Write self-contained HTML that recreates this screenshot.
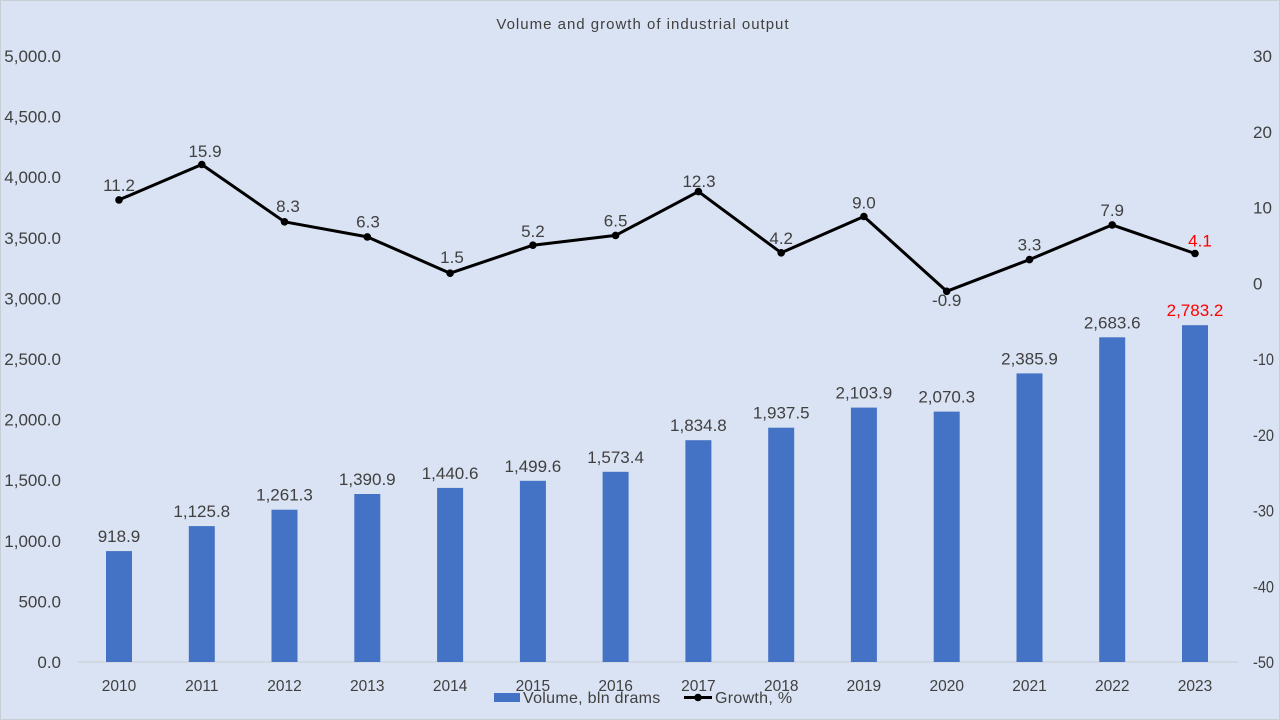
<!DOCTYPE html>
<html><head><meta charset="utf-8"><style>
html,body{margin:0;padding:0;background:#dae3f3;}
svg{display:block;}
text{font-family:"Liberation Sans","DejaVu Sans",sans-serif;fill:#404040;}
</style></head><body>
<svg width="1280" height="720" viewBox="0 0 1280 720" xmlns="http://www.w3.org/2000/svg">
<rect x="0.5" y="0.5" width="1279" height="719" fill="#dae3f3" stroke="#c9ced6" stroke-width="1"/>
<text x="643" y="29" text-anchor="middle" font-size="15" letter-spacing="1" style="fill:#404040">Volume and growth of industrial output</text>

<!-- left axis -->
<g font-size="17" text-anchor="end" style="fill:#595959">
<text x="61" y="668">0.0</text>
<text x="61" y="607.4">500.0</text>
<text x="61" y="546.8">1,000.0</text>
<text x="61" y="486.2">1,500.0</text>
<text x="61" y="425.6">2,000.0</text>
<text x="61" y="365">2,500.0</text>
<text x="61" y="304.4">3,000.0</text>
<text x="61" y="243.8">3,500.0</text>
<text x="61" y="183.2">4,000.0</text>
<text x="61" y="122.6">4,500.0</text>
<text x="61" y="62">5,000.0</text>
</g>
<!-- right axis -->
<g font-size="17" text-anchor="start" style="fill:#595959">
<text x="1253" y="62">30</text>
<text x="1253" y="137.75">20</text>
<text x="1253" y="213.5">10</text>
<text x="1253" y="289.25">0</text>
<text x="1253" y="365" textLength="21" lengthAdjust="spacingAndGlyphs">-10</text>
<text x="1253" y="440.75" textLength="21" lengthAdjust="spacingAndGlyphs">-20</text>
<text x="1253" y="516.5" textLength="21" lengthAdjust="spacingAndGlyphs">-30</text>
<text x="1253" y="592.25" textLength="21" lengthAdjust="spacingAndGlyphs">-40</text>
<text x="1253" y="668" textLength="21" lengthAdjust="spacingAndGlyphs">-50</text>
</g>

<line x1="78" y1="662" x2="1238" y2="662" stroke="#c8ccd4" stroke-width="1"/>

<!-- bars -->
<g fill="#4472c4">
<rect x="106" y="551.1" width="26" height="110.9"/>
<rect x="188.8" y="526.1" width="26" height="135.9"/>
<rect x="271.5" y="509.7" width="26" height="152.3"/>
<rect x="354.3" y="494.0" width="26" height="168"/>
<rect x="437.1" y="487.9" width="26" height="174.1"/>
<rect x="519.9" y="480.8" width="26" height="181.2"/>
<rect x="602.6" y="471.8" width="26" height="190.2"/>
<rect x="685.4" y="440.2" width="26" height="221.8"/>
<rect x="768.2" y="427.7" width="26" height="234.3"/>
<rect x="850.9" y="407.6" width="26" height="254.4"/>
<rect x="933.7" y="411.6" width="26" height="250.4"/>
<rect x="1016.5" y="373.4" width="26" height="288.6"/>
<rect x="1099.2" y="337.3" width="26" height="324.7"/>
<rect x="1182" y="325.2" width="26" height="336.8"/>
</g>

<!-- bar labels -->
<g font-size="17" text-anchor="middle">
<text x="119" y="542">918.9</text>
<text x="201.8" y="517">1,125.8</text>
<text x="284.5" y="500.7">1,261.3</text>
<text x="367.3" y="485">1,390.9</text>
<text x="450.1" y="478.9">1,440.6</text>
<text x="532.9" y="471.8">1,499.6</text>
<text x="615.6" y="462.8">1,573.4</text>
<text x="698.4" y="431.2">1,834.8</text>
<text x="781.2" y="418.7">1,937.5</text>
<text x="863.9" y="398.6">2,103.9</text>
<text x="946.7" y="402.6">2,070.3</text>
<text x="1029.5" y="364.4">2,385.9</text>
<text x="1112.2" y="328.3">2,683.6</text>
<text x="1195" y="316.2" style="fill:#ff0000">2,783.2</text>
</g>

<!-- line -->
<polyline fill="none" stroke="#000" stroke-width="3" stroke-linejoin="round"
points="119,199.9 201.8,164.5 284.5,221.8 367.3,236.9 450.1,273.2 532.9,245.2 615.6,235.4 698.4,191.6 781.2,252.8 863.9,216.5 946.7,291.3 1029.5,259.6 1112.2,224.9 1195,253.5"/>
<g fill="#000">
<circle cx="119" cy="199.9" r="3.8"/>
<circle cx="201.8" cy="164.5" r="3.8"/>
<circle cx="284.5" cy="221.8" r="3.8"/>
<circle cx="367.3" cy="236.9" r="3.8"/>
<circle cx="450.1" cy="273.2" r="3.8"/>
<circle cx="532.9" cy="245.2" r="3.8"/>
<circle cx="615.6" cy="235.4" r="3.8"/>
<circle cx="698.4" cy="191.6" r="3.8"/>
<circle cx="781.2" cy="252.8" r="3.8"/>
<circle cx="863.9" cy="216.5" r="3.8"/>
<circle cx="946.7" cy="291.3" r="3.8"/>
<circle cx="1029.5" cy="259.6" r="3.8"/>
<circle cx="1112.2" cy="224.9" r="3.8"/>
<circle cx="1195" cy="253.5" r="3.8"/>
</g>
<g font-size="17" text-anchor="middle">
<text x="119" y="191">11.2</text>
<text x="205" y="157">15.9</text>
<text x="288" y="212">8.3</text>
<text x="368" y="227.5">6.3</text>
<text x="452" y="263">1.5</text>
<text x="532.9" y="237">5.2</text>
<text x="615.6" y="226.5">6.5</text>
<text x="699" y="187">12.3</text>
<text x="781.2" y="244">4.2</text>
<text x="863.9" y="208.5">9.0</text>
<text x="946.7" y="306">-0.9</text>
<text x="1029.5" y="250.5">3.3</text>
<text x="1112.2" y="216">7.9</text>
<text x="1200" y="246.5" style="fill:#ff0000">4.1</text>
</g>

<!-- x labels -->
<g font-size="15.5" text-anchor="middle">
<text x="119" y="691">2010</text>
<text x="201.8" y="691">2011</text>
<text x="284.5" y="691">2012</text>
<text x="367.3" y="691">2013</text>
<text x="450.1" y="691">2014</text>
<text x="532.9" y="691">2015</text>
<text x="615.6" y="691">2016</text>
<text x="698.4" y="691">2017</text>
<text x="781.2" y="691">2018</text>
<text x="863.9" y="691">2019</text>
<text x="946.7" y="691">2020</text>
<text x="1029.5" y="691">2021</text>
<text x="1112.2" y="691">2022</text>
<text x="1195" y="691">2023</text>
</g>

<!-- legend -->
<rect x="494" y="693" width="26" height="9" fill="#4472c4"/>
<text x="523" y="703" font-size="16" letter-spacing="0.3">Volume, bln drams</text>
<line x1="684" y1="697.5" x2="712" y2="697.5" stroke="#000" stroke-width="3"/>
<circle cx="698" cy="697.5" r="3.8" fill="#000"/>
<text x="715" y="703" font-size="16" letter-spacing="0.3">Growth, %</text>
</svg>
</body></html>
